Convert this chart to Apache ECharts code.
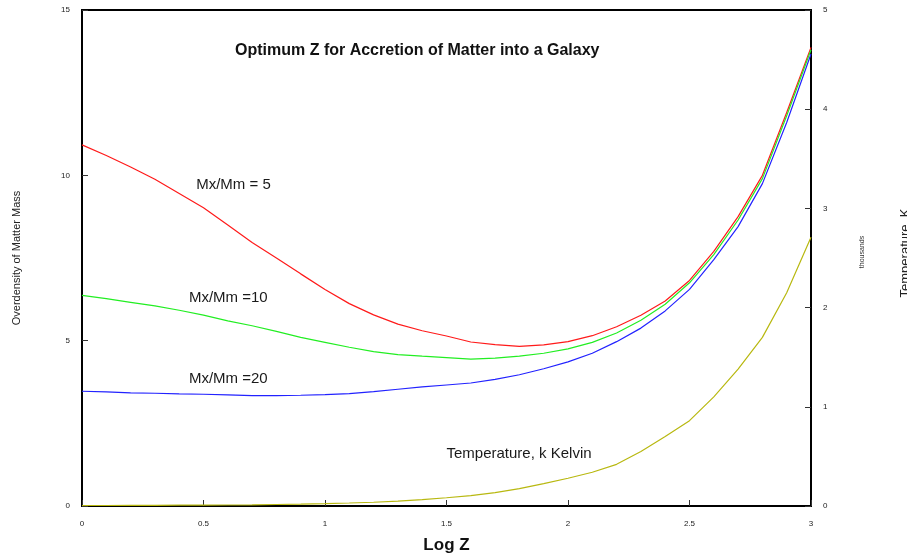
<!DOCTYPE html>
<html><head><meta charset="utf-8">
<script src="https://cdn.jsdelivr.net/npm/echarts@6/dist/echarts.min.js"></script>
<style>html,body{margin:0;padding:0;background:#fff}#c{width:907px;height:555px}</style>
</head><body><div id="c"></div>
<script>
const logZ = [0,0.1,0.2,0.3,0.4,0.5,0.6,0.7,0.8,0.9,1.0,1.1,1.2,1.3,1.4,1.5,1.6,1.7,1.8,1.9,2.0,2.1,2.2,2.3,2.4,2.5,2.6,2.7,2.8,2.9,3.0];
const ratio5  = [10.92,10.6,10.25,9.88,9.45,9.02,8.5,7.97,7.5,7.02,6.55,6.12,5.78,5.5,5.3,5.14,4.96,4.88,4.83,4.87,4.97,5.15,5.42,5.77,6.2,6.82,7.7,8.75,10.0,11.9,13.87];
const ratio10 = [6.37,6.27,6.16,6.05,5.92,5.77,5.6,5.45,5.28,5.1,4.95,4.8,4.67,4.58,4.53,4.49,4.44,4.47,4.53,4.62,4.75,4.95,5.23,5.62,6.1,6.75,7.6,8.65,9.9,11.8,13.8];
const ratio20 = [3.47,3.45,3.42,3.41,3.39,3.38,3.36,3.34,3.34,3.35,3.37,3.4,3.46,3.53,3.6,3.66,3.72,3.83,3.97,4.15,4.36,4.62,4.97,5.38,5.9,6.55,7.45,8.45,9.75,11.6,13.67];
const temperature = [0.005,0.005,0.006,0.007,0.008,0.009,0.01,0.012,0.015,0.018,0.023,0.03,0.038,0.05,0.065,0.083,0.105,0.135,0.175,0.225,0.28,0.34,0.42,0.55,0.7,0.86,1.1,1.38,1.7,2.15,2.71];
const xTickLabels = ['0','0.5','1','1.5','2','2.5','3'];
const leftTickLabels = ['0','5','10','15'];
const rightTickLabels = ['0','1','2','3','4','5'];
const annotations = [
  {text:'Mx/Mm = 5', x:0.47, y:9.7},
  {text:'Mx/Mm =10', x:0.44, y:6.3},
  {text:'Mx/Mm =20', x:0.44, y:3.85},
  {text:'Temperature, k Kelvin', x:1.5, y:1.58}
];

const pair = (xs, ys) => xs.map((x,i)=>[x, ys[i]]);
const FONT = '"Liberation Sans", Arial, sans-serif';
const chart = echarts.init(document.getElementById('c'), null, {renderer:'canvas'});
const tickLbl = {fontSize:8, color:'#222', fontFamily:FONT};
chart.setOption({
  animation:false,
  backgroundColor:'#fff',
  title:{text:'Optimum Z for Accretion of Matter into a Galaxy', left:230, top:38,
    textStyle:{fontSize:16, fontWeight:'bold', color:'#111', fontFamily:FONT}},
  grid:{left:82, right:96, top:10, bottom:49, outerBoundsMode:'none', containLabel:false,
    show:true, borderColor:'#000', borderWidth:2, backgroundColor:'transparent'},
  xAxis:{type:'value', min:0, max:3, interval:0.5,
    name:'Log Z', nameLocation:'middle', nameGap:31,
    nameTextStyle:{fontSize:17, fontWeight:'bold', color:'#111', fontFamily:FONT},
    axisLine:{lineStyle:{color:'#000', width:2}},
    axisTick:{inside:true, length:6, lineStyle:{color:'#333'}},
    axisLabel:{...tickLbl, margin:14, formatter:(v)=>xTickLabels[Math.round(v/0.5)]},
    splitLine:{show:false}},
  yAxis:[
    {type:'value', min:0, max:15, interval:5, position:'left',
     name:'Overdensity of Matter Mass', nameLocation:'middle', nameGap:60,
     nameTextStyle:{fontSize:11, color:'#222', fontFamily:FONT},
     axisLine:{show:true, lineStyle:{color:'#000', width:2}},
     axisTick:{show:true, inside:true, length:6, lineStyle:{color:'#333'}},
     axisLabel:{...tickLbl, margin:12, formatter:(v)=>leftTickLabels[Math.round(v/5)]},
     splitLine:{show:false}},
    {type:'value', min:0, max:5, interval:1, position:'right',
     name:'Temperature, K', nameLocation:'middle', nameGap:88, nameRotate:90,
     nameTextStyle:{fontSize:13, color:'#222', fontFamily:FONT, padding:[0,0,0,10]},
     axisLine:{show:true, lineStyle:{color:'#000', width:2}},
     axisTick:{show:true, inside:true, length:6, lineStyle:{color:'#333'}},
     axisLabel:{...tickLbl, margin:12, formatter:(v)=>rightTickLabels[Math.round(v)]},
     splitLine:{show:false}}
  ],
  series:[
    {type:'line', name:'Mx/Mm = 5', data:pair(logZ, ratio5), yAxisIndex:0, showSymbol:false, lineStyle:{color:'#ff1a1a', width:1.2}},
    {type:'line', name:'Mx/Mm =10', data:pair(logZ, ratio10), yAxisIndex:0, showSymbol:false, lineStyle:{color:'#22ee22', width:1.2}},
    {type:'line', name:'Mx/Mm =20', data:pair(logZ, ratio20), yAxisIndex:0, showSymbol:false, lineStyle:{color:'#2222ff', width:1.2}},
    {type:'line', name:'Temperature', data:pair(logZ, temperature), yAxisIndex:1, showSymbol:false, lineStyle:{color:'#b8b810', width:1.2}}
  ]
});
const g = annotations.map(a => {
  const p = chart.convertToPixel({gridIndex:0}, [a.x, a.y]);
  return {type:'text', x:p[0], y:p[1], style:{text:a.text, fontSize:15, fill:'#1a1a1a', fontFamily:FONT, textAlign:'left', textVerticalAlign:'middle'}};
});
g.push({type:'text', x:862, y:252, rotation:Math.PI/2, style:{text:'thousands', fontSize:7, fill:'#333', fontFamily:FONT, textAlign:'center', textVerticalAlign:'middle'}});
chart.setOption({graphic:g});
</script></body></html>
